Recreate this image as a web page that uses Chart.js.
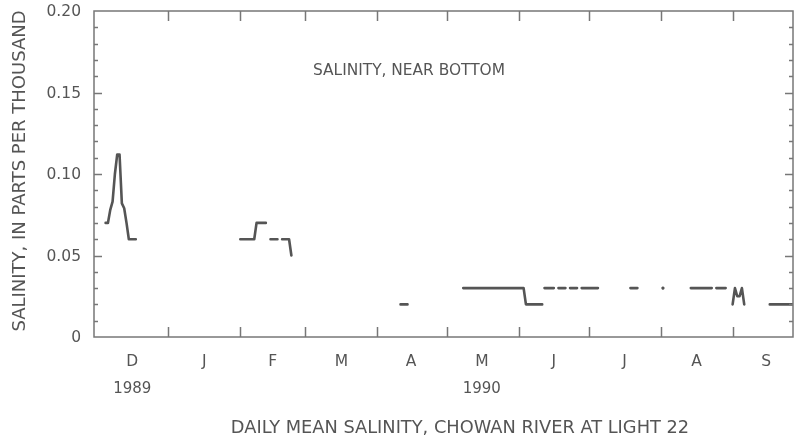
<!DOCTYPE html>
<html>
<head>
<meta charset="utf-8">
<script src="https://cdn.jsdelivr.net/npm/chart.js@4.4.1/dist/chart.umd.min.js"></script>
<style>
  html, body { margin: 0; padding: 0; background: #fff; }
  #wrap { width: 794px; height: 440px; }
</style>
</head>
<body>
<div id="wrap"><canvas id="salChart" width="794" height="440"></canvas></div>
<script>
// x values are days counted from 1 Dec 1989 (day 0)
const monthStarts = [31, 62, 90, 121, 151, 182, 212, 243, 274];
const monthLabels = ["D", "J", "F", "M", "A", "M", "J", "J", "A", "S"];
const monthMids = [15.5, 46.5, 76, 105.5, 135.5, 166, 197, 227.5, 258.5, 288.5];
const yearLabels = ["1989", "1990"];
const yearDays = [15.5, 166];
const yTicks = [0, 0.05, 0.10, 0.15, 0.20];
const yTickLabels = ["0", "0.05", "0.10", "0.15", "0.20"];

// daily mean salinity (ppt), as runs of consecutive days; breaks = missing record
const runStarts = [4, 62, 75, 80, 131, 158, 193, 199, 204, 209, 230, 244, 256, 267, 274, 290];
const runValues = [
  [0.07, 0.07, 0.078, 0.083, 0.10, 0.112, 0.112, 0.082, 0.079, 0.07, 0.06, 0.06, 0.06, 0.06],
  [0.06, 0.06, 0.06, 0.06, 0.06, 0.06, 0.06, 0.07, 0.07, 0.07, 0.07, 0.07],
  [0.06, 0.06, 0.06, 0.06],
  [0.06, 0.06, 0.06, 0.06, 0.05],
  [0.02, 0.02, 0.02, 0.02],
  [0.03, 0.03, 0.03, 0.03, 0.03, 0.03, 0.03, 0.03, 0.03, 0.03, 0.03, 0.03, 0.03, 0.03,
   0.03, 0.03, 0.03, 0.03, 0.03, 0.03, 0.03, 0.03, 0.03, 0.03, 0.03, 0.03, 0.03,
   0.02, 0.02, 0.02, 0.02, 0.02, 0.02, 0.02, 0.02],
  [0.03, 0.03, 0.03, 0.03, 0.03],
  [0.03, 0.03, 0.03, 0.03],
  [0.03, 0.03, 0.03, 0.03],
  [0.03, 0.03, 0.03, 0.03, 0.03, 0.03, 0.03, 0.03],
  [0.03, 0.03, 0.03, 0.03],
  [0.03],
  [0.03, 0.03, 0.03, 0.03, 0.03, 0.03, 0.03, 0.03, 0.03, 0.03],
  [0.03, 0.03, 0.03, 0.03, 0.03],
  [0.02, 0.03, 0.025, 0.025, 0.03, 0.02],
  [0.02, 0.02, 0.02, 0.02, 0.02, 0.02, 0.02, 0.02, 0.02, 0.02, 0.02]
];

const INK = "#555";
const FONT = "'DejaVu Sans', Arial, sans-serif";

function buildPoints() {
  const pts = [];
  runStarts.forEach((start, r) => {
    runValues[r].forEach((v, i) => pts.push({ x: start + i, y: v, lone: runValues[r].length === 1 }));
    pts.push({ x: start + runValues[r].length - 0.5, y: null });
  });
  return pts;
}

// frame, inward ticks and all the axis text (the old USGS plot style)
const framePlugin = {
  id: "frame",
  afterDraw(chart) {
    const { ctx, chartArea: a, scales } = chart;
    const xs = scales.x, ys = scales.y;
    ctx.save();
    ctx.strokeStyle = "#777";
    ctx.lineWidth = 1.5;
    ctx.strokeRect(a.left, a.top, a.right - a.left, a.bottom - a.top);

    ctx.beginPath();
    for (const d of monthStarts) {
      const x = Math.round(xs.getPixelForValue(d)) + 0.5;
      ctx.moveTo(x, a.bottom); ctx.lineTo(x, a.bottom - 10);
      ctx.moveTo(x, a.top);    ctx.lineTo(x, a.top + 10);
    }
    for (let k = 1; k < 20; k++) {
      const y = Math.round(ys.getPixelForValue(k / 100)) + 0.5;
      const len = k % 5 === 0 ? 8 : 4;
      ctx.moveTo(a.left, y);  ctx.lineTo(a.left + len, y);
      ctx.moveTo(a.right, y); ctx.lineTo(a.right - len, y);
    }
    ctx.stroke();

    ctx.fillStyle = INK;
    ctx.font = `15.5px ${FONT}`;
    ctx.textAlign = "right";
    ctx.textBaseline = "middle";
    yTicks.forEach((v, i) => ctx.fillText(yTickLabels[i], a.left - 13, ys.getPixelForValue(v) + 1));

    ctx.textAlign = "center";
    monthLabels.forEach((t, i) => ctx.fillText(t, xs.getPixelForValue(monthMids[i]), 362));
    ctx.font = `15px ${FONT}`;
    yearLabels.forEach((t, i) => ctx.fillText(t, xs.getPixelForValue(yearDays[i]), 389));

    ctx.font = `17.8px ${FONT}`;
    ctx.fillText("DAILY MEAN SALINITY, CHOWAN RIVER AT LIGHT 22", 460, 428);

    ctx.font = `15.4px ${FONT}`;
    ctx.textAlign = "left";
    ctx.fillText("SALINITY, NEAR BOTTOM", 313, 71);

    ctx.font = `18px ${FONT}`;
    ctx.translate(20, 171);
    ctx.rotate(-Math.PI / 2);
    ctx.textAlign = "center";
    ctx.fillText("SALINITY, IN PARTS PER THOUSAND", 0, 0);
    ctx.restore();
  }
};

new Chart(document.getElementById("salChart"), {
  type: "line",
  data: {
    datasets: [{
      data: buildPoints(),
      borderColor: INK,
      backgroundColor: INK,
      borderWidth: 2.6,
      borderCapStyle: "round",
      borderJoinStyle: "round",
      tension: 0,
      spanGaps: false,
      pointRadius: c => (c.raw && c.raw.lone ? 1.6 : 0),
      pointBorderWidth: 0
    }]
  },
  options: {
    responsive: false,
    animation: false,
    layout: { padding: { left: 94, right: 1, top: 11, bottom: 103 } },
    plugins: { legend: { display: false }, tooltip: { enabled: false } },
    scales: {
      x: { type: "linear", min: -1, max: 300, display: false },
      y: { type: "linear", min: 0, max: 0.2, display: false }
    }
  },
  plugins: [framePlugin]
});
</script>
</body>
</html>
